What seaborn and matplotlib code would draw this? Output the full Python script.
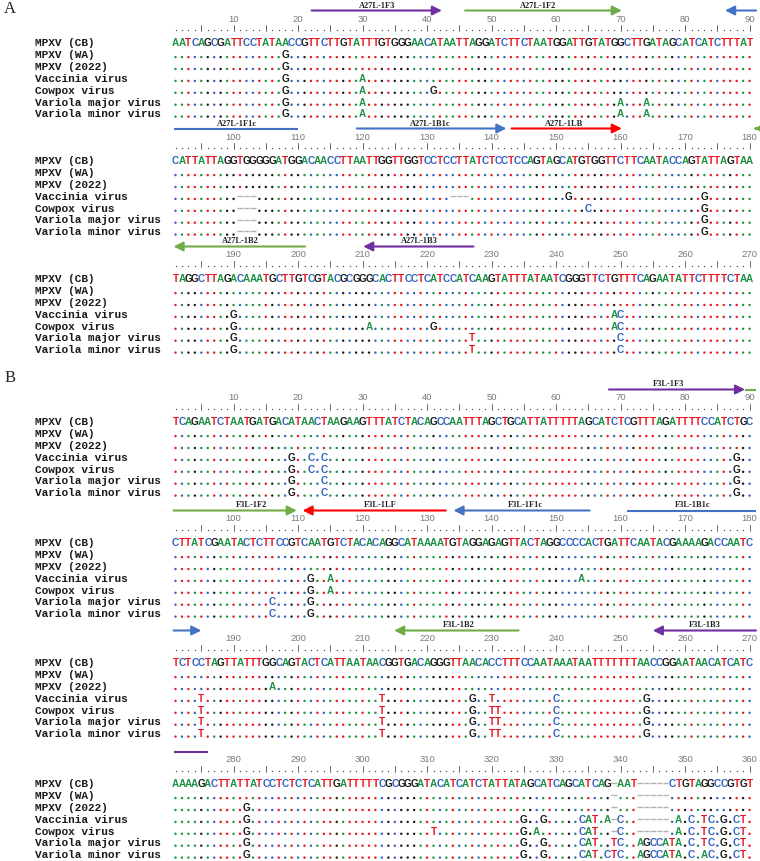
import numpy as np
import pandas as pd
import seaborn as sns
import matplotlib.pyplot as plt

# ---- data ----
names = ["MPXV (CB)", "MPXV (WA)", "MPXV (2022)", "Vaccinia virus",
         "Cowpox virus", "Variola major virus", "Variola minor virus"]

# MPXV (CB) reference sequence, A27L region (panel A)
ref_A = ("AATCAGCGATTCCTATAACCGTTCTTGTATTTGTGGGAACATAATTAGGATCTTCTAATGGATTGTATGGCTTGATAGCATCATCTTTAT"
         "CATTATTAGGTGGGGGATGGACAACCTTAATTGGTTGGTCCTCCTTATCTCCTCCAGTAGCATGTGGTTCTTCAATACCAGTATTAGTAA"
         "TAGGCTTAGACAAATGCTTGTCGTACGCGGGCACTTCCTCATCCATCAAGTATTTATAATCGGGTTCTGTTTCAGAATATTCTTTTCTAA")

# MPXV (CB) reference sequence, F3L region (panel B)
ref_B = ("TCAGAATCTAATGATGACATAACTAAGAAGTTTATCTACAGCCAATTTAGCTGCATTATTTTTAGCATCTCGTTTAGATTTTCCATCTGC"
         "CTTATCGAATACTCTTCCGTCAATGTCTACACAGGCATAAAATGTAGGAGAGTTACTAGGCCCCACTGATTCAATACGAAAAGACCAATC"
         "TCTCCTAGTTATTTGGCAGTACTCATTAATAACGGTGACAGGGTTAACACCTTTCCAATAAATAATTTTTTTAACCGGAATAACATCATC"
         "AAAAGACTTATTATCCTCTCTCATTGATTTTTCGCGGGATACATCATCTATTATAGCATCAGCATCAG-AAT-----CTGTAGGCCGTGT")

# differences from the reference (position + base, "-" = gap)
wa_A = "18G"
mp2022_A = "18G"
vaccinia_A = "18G 30A 101- 102- 103- 134- 135- 136- 152G 173G 190G 249A 250C"
cowpox_A = "18G 30A 41G 101- 102- 103- 155C 173G 190G 211A 221G 249A 250C"
major_A = "18G 30A 70A 74A 101- 102- 103- 173G 190G 227T 250C"
minor_A = "18G 30A 70A 74A 101- 102- 103- 173G 190G 227T 250C"

wa_B = ""
mp2022_B = "196A 282G"
vaccinia_B = ("19G 22C 24C 88G 112G 115A 154A 185T 213T 227G 230T 240C 254G 282G "
              "325G 328G 334C 335A 336T 338A 340C 349A 351C 353T 354C 356G 358C 359T")
cowpox_B = ("19G 22C 24C 88G 112G 115A 185T 213T 227G 230T 231T 240C 254G 282G 311T "
            "325G 327A 334C 335A 336T 340C 349A 351C 353T 354C 356G 358C 359T")
major_B = ("19G 24C 88G 106C 112G 185T 213T 227G 230T 231T 240C 254G 282G 325G 328G "
           "334C 335A 336T 339T 340C 343A 344G 345C 346C 347A 348T 349A 351C 353T 354C 356G 358C 359T")
minor_B = ("19G 24C 88G 106C 112G 185T 213T 227G 230T 231T 240C 254G 282G 325G 328G "
           "334C 335A 336T 338C 339T 340C 343A 344G 345C 346C 347A 348T 349A 351C 353A 354C 356G 358C 359T")

# primers: label, start, end, arrow head side, colour, label position
primers_A = [("A27L-1F3", 22.1, 42.3, "right", "#7030A0", 32.2),
             ("A27L-1F2", 45.9, 70.2, "right", "#70AD47", 57.2),
             ("A27L-1F1c", 86.2, 110.0, "left", "#4472C4", 100.5),
             ("A27L-1B1c", 119.1, 142.3, "right", "#4472C4", 130.5),
             ("A27L-1LB", 143.1, 160.2, "right", "#FF0000", 151.2),
             ("A27L-1B2", 180.7, 201.1, "left", "#70AD47", 191.0),
             ("A27L-1B3", 210.1, 227.2, "left", "#7030A0", 218.8)]
primers_B = [("F3L-1F3", 68.2, 89.3, "right", "#7030A0", 77.4),
             ("F3L-1F2", 89.3, 109.8, "right", "#70AD47", 102.7),
             ("F3L-1LF", 110.7, 132.9, "left", "#FF0000", 122.7),
             ("F3L-1F1c", 134.1, 155.2, "left", "#4472C4", 145.2),
             ("F3L-1B1c", 161.0, 185.0, "right", "#4472C4", 171.2),
             ("F3L-1B2", 214.9, 234.2, "left", "#70AD47", 224.9),
             ("F3L-1B3", 255.0, 276.0, "left", "#7030A0", 263.1)]

block_y_A = [43, 161, 279]
block_y_B = [422, 543, 663, 784]

base_colors = {"A": "#1E9145", "T": "#E8141E", "C": "#3060C0", "G": "#1A1A1A"}

# ---- plotting ----
sns.set_theme(style="white")
plt.rcParams['font.family'] = ['Liberation Sans', 'DejaVu Sans']

fig = plt.figure(figsize=(7.6, 8.62), dpi=100)
ax = fig.add_axes([0, 0, 1, 1])
px = 6.45          # pixels per alignment column
x0 = 175.5         # pixel of column 1
ax.set_xlim(1 - x0 / px, 1 + (760 - x0) / px)
ax.set_ylim(862, 0)
ax.axis("off")

row_gap = 11.9
dots = []


def parse(s):
    out = {}
    for tok in s.split():
        out[int(tok[:-1])] = tok[-1]
    return out


def draw_gap(x, y):
    ax.plot([x - 0.42, x + 0.42], [y, y], color="#B4B4B4", lw=1.0, solid_capstyle="butt")


def draw_primer(b, cy, start, end, head, color):
    lo, hi = b * 90 + 0.7, b * 90 + 91.0
    s, e = max(start, lo), min(end, hi)
    if s >= e:
        return
    y = cy - 31.5
    xs, xe = s - b * 90, e - b * 90
    head_here = (head == "right" and end <= hi) or (head == "left" and start >= lo)
    if head_here:
        tail, tip = (xs, xe) if head == "right" else (xe, xs)
        ax.annotate("", xy=(tip, y), xytext=(tail, y),
                    arrowprops=dict(arrowstyle="-|>,head_length=0.7,head_width=0.35",
                                    color=color, lw=1.5, shrinkA=0, shrinkB=0,
                                    mutation_scale=8))
    else:
        ax.plot([xs, xe], [y, y], color=color, lw=1.5, solid_capstyle="butt")


def draw_panel(ref, rows, primers, block_ys):
    variants = [parse(r) for r in rows]
    for b, cy in enumerate(block_ys):
        # primer arrows and labels
        for label, start, end, head, color, lpos in primers:
            draw_primer(b, cy, start, end, head, color)
            if b * 90 < lpos <= b * 90 + 90:
                ax.text(lpos - b * 90, cy - 37.5, label, ha="center", va="center",
                        fontsize=6, fontweight="bold", family="Liberation Serif", color="#222222")
        # ruler
        for k in range(1, 91):
            n = b * 90 + k
            if n % 5 == 0:
                ax.plot([k, k], [cy - 17, cy - 11], color="#505050", lw=0.6)
            else:
                ax.plot(k, cy - 12, marker="o", ms=1.0, color="#505050", mew=0)
            if n % 10 == 0:
                ax.text(k, cy - 24, str(n), ha="center", va="center", fontsize=6.8, color="#7A7A7A")
        # names
        for r, name in enumerate(names):
            ax.text(1 - (x0 - 35) / px, cy + r * row_gap, name, ha="left", va="center",
                    fontsize=8, fontweight="bold", family="Liberation Mono", color="#1A1A1A")
        # reference row
        for k in range(1, 91):
            ch = ref[b * 90 + k - 1]
            if ch == "-":
                draw_gap(k, cy)
            else:
                ax.text(k, cy, ch, ha="center", va="center", fontsize=7.2, fontweight="bold",
                        color=base_colors[ch])
        # other rows
        for r, var in enumerate(variants, start=1):
            y = cy + r * row_gap
            for k in range(1, 91):
                n = b * 90 + k
                refch = ref[n - 1]
                if n in var:
                    ch = var[n]
                    if ch == "-":
                        draw_gap(k, y)
                    else:
                        ax.text(k, y, ch, ha="center", va="center", fontsize=7.2,
                                fontweight="bold", color=base_colors[ch])
                elif refch == "-":
                    draw_gap(k, y)
                else:
                    dots.append({"x": k, "y": y + 3.2, "base": refch})


draw_panel(ref_A, [wa_A, mp2022_A, vaccinia_A, cowpox_A, major_A, minor_A], primers_A, block_y_A)
draw_panel(ref_B, [wa_B, mp2022_B, vaccinia_B, cowpox_B, major_B, minor_B], primers_B, block_y_B)

dot_df = pd.DataFrame(dots)
sns.scatterplot(data=dot_df, x="x", y="y", hue="base", palette=base_colors,
                s=3, linewidth=0, legend=False, ax=ax)
ax.set_xlim(1 - x0 / px, 1 + (760 - x0) / px)
ax.set_ylim(862, 0)
ax.axis("off")

ax.text(1 - (x0 - 10) / px, 9, "A", ha="center", va="center", fontsize=12,
        family="Liberation Serif")
ax.text(1 - (x0 - 10) / px, 378, "B", ha="center", va="center", fontsize=12,
        family="Liberation Serif")

fig.savefig("out.png", dpi=100)
